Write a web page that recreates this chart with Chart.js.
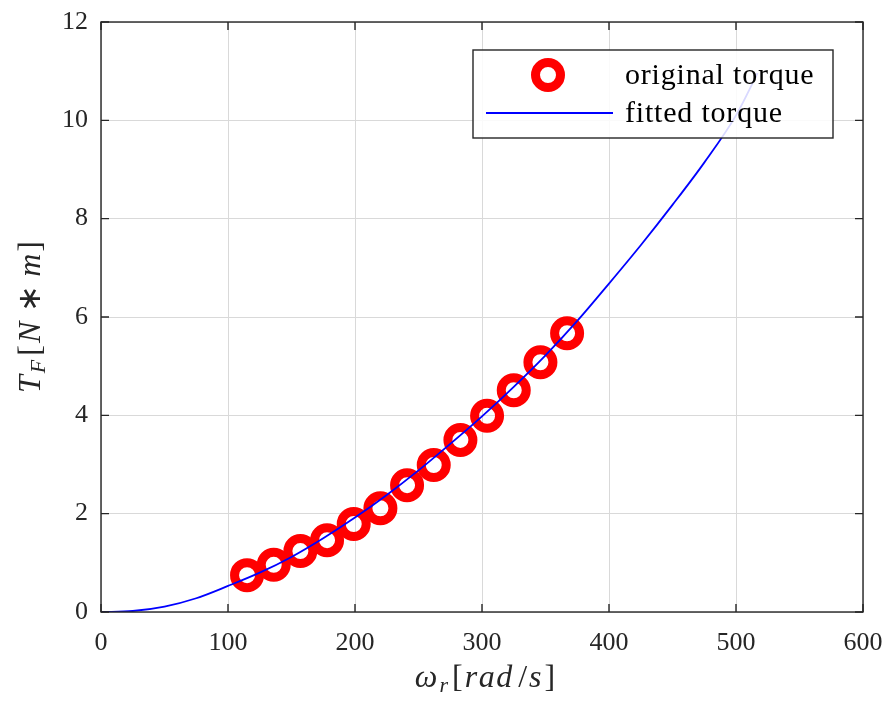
<!DOCTYPE html>
<html>
<head>
<meta charset="utf-8">
<script src="https://cdn.jsdelivr.net/npm/chart.js@4.4.0/dist/chart.umd.min.js"></script>
<style>
  html, body { margin: 0; background: #fff; }
  #contenedor { width: 888px; height: 704px; }
</style>
</head>
<body>
<div id="contenedor"><canvas id="grafica"></canvas></div>
<script>
// Datos
const velOriginal = [115, 136, 157, 178, 199, 220, 241, 262, 283, 304, 325, 346, 367];
const torqueOriginal = [0.75, 0.96, 1.24, 1.46, 1.79, 2.11, 2.58, 2.99, 3.50, 3.99, 4.51, 5.08, 5.67];
const velAjuste = [0, 25, 50, 75, 100, 125, 150, 175, 200, 225, 250, 275, 300, 325, 350, 375, 400, 425, 450, 475, 500, 517];
const torqueAjuste = [0, 0.02, 0.11, 0.28, 0.53, 0.80, 1.12, 1.50, 1.92, 2.38, 2.88, 3.42, 3.98, 4.58, 5.22, 5.92, 6.68, 7.46, 8.28, 9.14, 10.10, 10.96];
const ticksX = [0, 100, 200, 300, 400, 500, 600];
const ticksY = [0, 2, 4, 6, 8, 10, 12];
const etiquetas = ['original torque', 'fitted torque'];

const colorEje = '#262626';
const fuente = 'Liberation Serif';

// Dibuja texto compuesto (cursiva, subindices) pieza por pieza
function medirPiezas(ctx, piezas) {
    let total = 0;
    piezas.forEach(p => {
        ctx.font = `${p.italic ? 'italic ' : ''}${p.size}px "${fuente}"`;
        ctx.letterSpacing = (p.ls || 0) + 'px';
        p.w = ctx.measureText(p.t).width + (p.ls || 0) * p.t.length;
        total += p.w;
    });
    return total;
}
function dibujarPiezas(ctx, piezas, x, y) {
    piezas.forEach(p => {
        ctx.font = `${p.italic ? 'italic ' : ''}${p.size}px "${fuente}"`;
        ctx.letterSpacing = (p.ls || 0) + 'px';
        ctx.fillText(p.t, x, y + (p.dy || 0));
        x += p.w;
    });
    ctx.letterSpacing = '0px';
}

const marcoMatlab = {
    id: 'marcoMatlab',
    afterDraw(chart) {
        const { ctx, chartArea: a, scales } = chart;
        ctx.save();
        // caja
        ctx.strokeStyle = colorEje;
        ctx.lineWidth = 1.4;
        ctx.strokeRect(a.left, a.top, a.right - a.left, a.bottom - a.top);
        // marcas hacia adentro
        const largo = 8;
        ctx.beginPath();
        ticksX.forEach(v => {
            const px = scales.x.getPixelForValue(v);
            ctx.moveTo(px, a.bottom); ctx.lineTo(px, a.bottom - largo);
            ctx.moveTo(px, a.top); ctx.lineTo(px, a.top + largo);
        });
        ticksY.forEach(v => {
            const py = scales.y.getPixelForValue(v);
            ctx.moveTo(a.left, py); ctx.lineTo(a.left + largo, py);
            ctx.moveTo(a.right, py); ctx.lineTo(a.right - largo, py);
        });
        ctx.stroke();

        // leyenda
        const lx = 473, ly = 50, lw = 360, lh = 88;
        ctx.fillStyle = 'rgba(255,255,255,0.85)';
        ctx.fillRect(lx, ly, lw, lh);
        ctx.strokeStyle = colorEje;
        ctx.lineWidth = 1.4;
        ctx.strokeRect(lx, ly, lw, lh);
        const ds0 = chart.data.datasets[1];
        ctx.beginPath();
        ctx.arc(548, 75, ds0.pointRadius, 0, Math.PI * 2);
        ctx.strokeStyle = ds0.borderColor;
        ctx.lineWidth = ds0.pointBorderWidth;
        ctx.stroke();
        const ds1 = chart.data.datasets[0];
        ctx.beginPath();
        ctx.moveTo(486, 113); ctx.lineTo(613, 113);
        ctx.strokeStyle = ds1.borderColor;
        ctx.lineWidth = ds1.borderWidth;
        ctx.stroke();
        ctx.fillStyle = '#000';
        ctx.font = `30px "${fuente}"`;
        ctx.letterSpacing = '0.8px';
        ctx.textBaseline = 'alphabetic';
        ctx.textAlign = 'left';
        ctx.fillText(etiquetas[0], 625, 84);
        ctx.fillText(etiquetas[1], 625, 122);
        ctx.letterSpacing = '0px';

        // titulos de ejes
        ctx.fillStyle = colorEje;
        const tx = [
            { t: 'ω', italic: true, size: 32, ls: 1 },
            { t: 'r', italic: true, size: 22, dy: 5, ls: 2 },
            { t: '[', size: 32, ls: 1 },
            { t: 'rad', italic: true, size: 32, ls: 1.5 },
            { t: '/', size: 32, ls: 1 },
            { t: 's', italic: true, size: 32, ls: 1.5 },
            { t: ']', size: 32 }
        ];
        const wx = medirPiezas(ctx, tx);
        dibujarPiezas(ctx, tx, 485 - wx / 2, 687);

        const ty = [
            { t: 'T', italic: true, size: 32, ls: 1 },
            { t: 'F', italic: true, size: 22, dy: 5, ls: 2 },
            { t: '[', size: 32, ls: 1 },
            { t: 'N', italic: true, size: 32, ls: 1 },
            { t: ' ∗ ', size: 32 },
            { t: 'm', italic: true, size: 32, ls: 1 },
            { t: ']', size: 32 }
        ];
        const wy = medirPiezas(ctx, ty);
        ctx.translate(40, 317);
        ctx.rotate(-Math.PI / 2);
        dibujarPiezas(ctx, ty, -wy / 2, 0);
        ctx.restore();
    }
};

const config = {
    type: 'scatter',
    data: {
        datasets: [{
            type: 'line',
            label: etiquetas[1],
            data: velAjuste.map((v, i) => ({ x: v, y: torqueAjuste[i] })),
            borderColor: '#0000ff',
            borderWidth: 1.8,
            pointRadius: 0,
            cubicInterpolationMode: 'monotone',
            fill: false,
            order: 0
        }, {
            label: etiquetas[0],
            data: velOriginal.map((v, i) => ({ x: v, y: torqueOriginal[i] })),
            borderColor: '#ff0000',
            backgroundColor: 'rgba(0,0,0,0)',
            pointRadius: 12.5,
            pointBorderWidth: 9,
            pointHoverRadius: 12.5,
            order: 1
        }]
    },
    options: {
        responsive: true,
        maintainAspectRatio: false,
        animation: false,
        layout: { padding: { left: 0, right: 25, top: 22, bottom: 0 } },
        plugins: { legend: { display: false }, tooltip: { enabled: false } },
        scales: {
            x: {
                type: 'linear', min: 0, max: 600,
                afterBuildTicks: s => { s.ticks = ticksX.map(v => ({ value: v })); },
                afterFit: s => { s.height = 92; s.paddingLeft = 0; s.paddingRight = 0; },
                grid: { color: '#d9d9d9', lineWidth: 1, drawTicks: false },
                border: { display: false },
                ticks: { color: colorEje, font: { family: fuente, size: 26 }, padding: 16, maxRotation: 0 }
            },
            y: {
                type: 'linear', min: 0, max: 12,
                afterBuildTicks: s => { s.ticks = ticksY.map(v => ({ value: v })); },
                afterFit: s => { s.width = 101; s.paddingTop = 0; s.paddingBottom = 0; },
                grid: { color: '#d9d9d9', lineWidth: 1, drawTicks: false },
                border: { display: false },
                ticks: { color: colorEje, font: { family: fuente, size: 26 }, padding: 13 }
            }
        }
    },
    plugins: [marcoMatlab]
};

new Chart(document.getElementById('grafica'), config);
</script>
</body>
</html>
